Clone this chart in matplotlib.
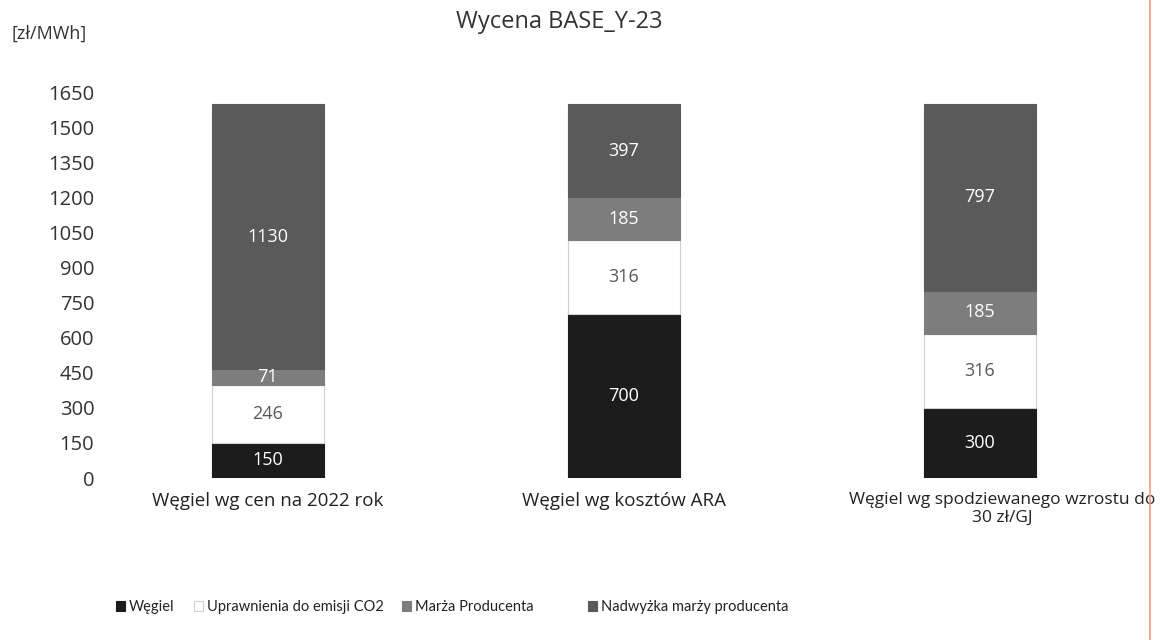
import matplotlib
matplotlib.use("Agg")
import matplotlib.pyplot as plt
from matplotlib.lines import Line2D
from matplotlib.patches import Patch
import matplotlib.transforms as mtransforms
import numpy as np

plt.rcParams['font.family'] = ['Open Sans', 'DejaVu Sans']

categories = ["Węgiel wg cen na 2022 rok", "Węgiel wg kosztów ARA",
              "Węgiel wg spodziewanego wzrostu do\n30 zł/GJ"]
series_names = ["Węgiel", "Uprawnienia do emisji CO2", "Marża Producenta",
                "Nadwyżka marży producenta"]
wegiel = [150, 700, 300]
uprawnienia = [246, 316, 316]
marza = [71, 185, 185]
nadwyzka = [1130, 397, 797]
yticks = list(range(0, 1651, 150))

colors = ["#1c1c1c", "#ffffff", "#7d7d7d", "#5a5a5a"]
edges = ["#1c1c1c", "#d0d0d0", "#7d7d7d", "#5a5a5a"]
text_colors = ["white", "#595959", "white", "white"]

fig = plt.figure(figsize=(11.61, 6.4), dpi=100)
ax = fig.add_axes([104/1161, (640-478)/640, (1158-104)/1161, 386/640])

x = np.arange(len(categories))
bottom = np.zeros(len(categories))
for vals, name, c, ec, tc in zip([wegiel, uprawnienia, marza, nadwyzka],
                                 series_names, colors, edges, text_colors):
    vals = np.array(vals, dtype=float)
    ax.bar(x, vals, 0.315, bottom=bottom, color=c, edgecolor=ec,
           linewidth=0.8, label=name)
    for xi, b, v in zip(x, bottom, vals):
        ax.text(xi, b + v / 2, f"{int(v)}", ha="center", va="center",
                color=tc, fontsize=13)
    bottom += vals

ax.set_xlim(-0.46, 2.5)
ax.set_ylim(0, 1650)
ax.set_yticks(yticks)
ax.set_yticklabels([str(t) for t in yticks], fontsize=14.5, color="#333333")
ax.set_xticks(x)
ax.set_xticklabels(categories, fontsize=13.5, color="#222222",
                   linespacing=1.2)
ax.tick_params(axis="x", length=0, pad=10)
ax.tick_params(axis="y", length=0, pad=7)
for s in ax.spines.values():
    s.set_visible(False)

# third category label: slightly smaller and shifted right as in the reference
lbl = ax.get_xticklabels()[2]
lbl.set_fontsize(12.5)
lbl.set_transform(lbl.get_transform() +
                  mtransforms.ScaledTranslation(22/100, 0, fig.dpi_scale_trans))

fig.text(0.482, 0.966, "Wycena BASE_Y-23", ha="center", va="center",
         fontsize=17, color="#333333")
fig.text(0.01, 0.947, "[zł/MWh]", ha="left", va="center", fontsize=13,
         color="#333333")

# legend entries placed individually like the reference
leg_x = [116, 194, 402, 588]
for name, c, ec, lx in zip(series_names, colors, edges, leg_x):
    lg = fig.legend(handles=[Patch(facecolor=c, edgecolor=ec, linewidth=0.8)],
                    labels=[name], loc="center left",
                    bbox_to_anchor=(lx/1161, 0.051), frameon=False,
                    prop={"family": ["Lato", "DejaVu Sans"], "size": 10.5},
                    handlelength=0.65, handleheight=0.65,
                    handletextpad=0.25, borderpad=0, borderaxespad=0)
    for t in lg.get_texts():
        t.set_color("#222222")

fig.add_artist(Line2D([1150/1161, 1150/1161], [0, 1], color="#f0a080",
                      linewidth=1.2))

fig.savefig("out.png", dpi=100, facecolor="white")
